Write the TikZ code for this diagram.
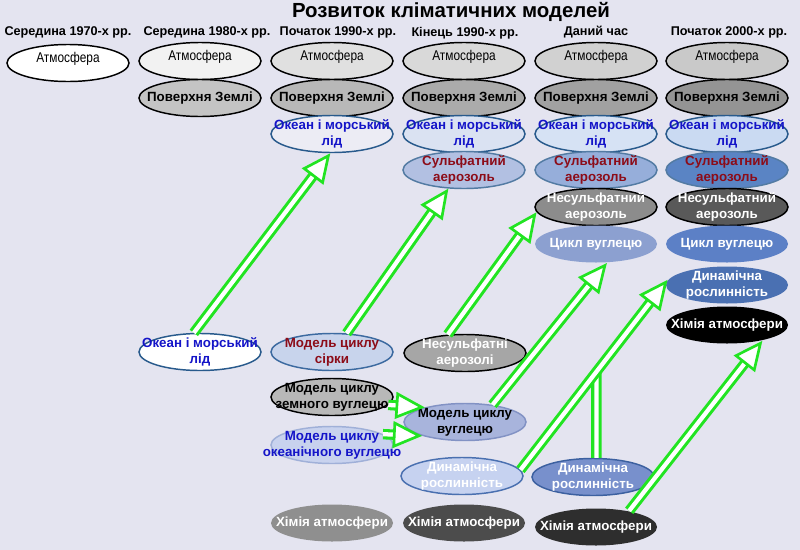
\documentclass[tikz,border=0pt]{standalone}
\usepackage{fontspec}
\setmainfont{Liberation Sans}
\newfontfamily\narrowfont[FakeStretch=0.84]{Liberation Sans}
\usetikzlibrary{shapes.geometric,arrows.meta,calc}
\definecolor{bgc}{RGB}{228,228,240}
\definecolor{agreen}{RGB}{34,228,34}
\definecolor{oblue}{RGB}{20,20,200}
\definecolor{oborder}{RGB}{40,90,140}
\definecolor{sred}{RGB}{140,12,24}
\tikzset{
  el/.style={ellipse, minimum width=91.5pt, minimum height=27.75pt,
    inner xsep=-40pt, inner ysep=-14pt, line width=1.1pt, align=center,
    font=\fontsize{10}{12}\bfseries\selectfont},
  atm/.style={el, draw=black, text=black, text height=6pt, text depth=7pt,
    font=\fontsize{10.6}{12}\narrowfont\selectfont},
  surf/.style={el, draw=black, text=black},
  ocean/.style={el, draw=oborder, text=oblue},
  sulf/.style={el, draw=oborder!80!white, text=sred},
  whitetxt/.style={el, text=white},
  hdr/.style={font=\fontsize{9.5}{11}\bfseries\selectfont},
  harrow/.style={draw=white, line width=3.2pt, line join=miter,
    preaction={draw=agreen, line width=7.8pt, arrows=-, shorten >=14pt},
    -{Triangle[length=22pt,width=20pt,color=agreen,fill=white,line width=2pt]}},
  hline/.style={draw=white, line width=3.2pt,
    preaction={draw=agreen, line width=7.8pt}}
}
\begin{document}
\begin{tikzpicture}[x=0.75pt,y=-0.75pt]
\useasboundingbox (0,0) rectangle (800,550);
\fill[bgc] (0,0) rectangle (800,550);

% title and headers
\node[font=\fontsize{15.3}{18}\bfseries\selectfont] (title) at (451,12) {Розвиток кліматичних моделей};
\node[hdr] (h1) at (68,32) {Середина 1970-х рр.};
\node[hdr] (h2) at (207,32) {Середина 1980-х рр.};
\node[hdr] (h3) at (338,32) {Початок 1990-х рр.};
\node[hdr] (h4) at (465,33) {Кінець 1990-х рр.};
\node[hdr] (h5) at (596,32) {Даний час};
\node[hdr] (h6) at (729,32) {Початок 2000-х рр.};

% column 1
\node[atm, fill=white] (atm1) at (68,63) {Атмосфера};
% column 2
\node[atm, fill=black!5] (atm2) at (200,61) {Атмосфера};
\node[surf, fill=black!23] (surf2) at (200,98) {Поверхня Землі};
% column 3
\node[atm, fill=black!12] (atm3) at (332,61) {Атмосфера};
\node[surf, fill=black!28] (surf3) at (332,98) {Поверхня Землі};
\node[ocean, fill=bgc!70!white] (ocean3) at (332,134) {Океан і морський\\лід};
% column 4
\node[atm, fill=black!15] (atm4) at (464,61) {Атмосфера};
\node[surf, fill=black!33] (surf4) at (464,98) {Поверхня Землі};
\node[ocean, fill={rgb,255:red,218;green,226;blue,242}] (ocean4) at (464,134) {Океан і морський\\лід};
\node[sulf, fill={rgb,255:red,178;green,192;blue,226}] (sulf4) at (464,170) {Сульфатний\\аерозоль};
% column 5
\node[atm, fill=black!18] (atm5) at (596,61) {Атмосфера};
\node[surf, fill=black!37] (surf5) at (596,98) {Поверхня Землі};
\node[ocean, fill={rgb,255:red,214;green,226;blue,244}] (ocean5) at (596,134) {Океан і морський\\лід};
\node[sulf, fill={rgb,255:red,150;green,174;blue,218}] (sulf5) at (596,170) {Сульфатний\\аерозоль};
\node[whitetxt, draw=black, fill=black!45] (nsulf5) at (596,207) {Несульфатний\\аерозоль};
\node[whitetxt, fill={rgb,255:red,140;green,160;blue,208}] (cyc5) at (596,244) {Цикл вуглецю};
% column 6
\node[atm, fill=black!21] (atm6) at (727,61) {Атмосфера};
\node[surf, fill=black!42] (surf6) at (727,98) {Поверхня Землі};
\node[ocean, fill={rgb,255:red,202;green,218;blue,242}] (ocean6) at (727,134) {Океан і морський\\лід};
\node[sulf, fill={rgb,255:red,90;green,132;blue,196}] (sulf6) at (727,170) {Сульфатний\\аерозоль};
\node[whitetxt, draw=black, fill=black!65] (nsulf6) at (727,207) {Несульфатний\\аерозоль};
\node[whitetxt, fill={rgb,255:red,92;green,128;blue,198}] (cyc6) at (727,244) {Цикл вуглецю};
\node[whitetxt, fill={rgb,255:red,74;green,112;blue,178}] (dyn6) at (727,285) {Динамічна\\рослинність};
\node[whitetxt, fill=black] (chem6) at (727,325) {Хімія атмосфери};

% lower part
\node[ocean, fill=white] (ocean2) at (200,352) {Океан і морський\\лід};
\node[el, draw={rgb,255:red,60;green,106;blue,160}, text=sred, fill={rgb,255:red,200;green,212;blue,236}] (sulmod) at (332,352) {Модель циклу\\сірки};
\node[el, draw=black, text=black, fill=black!28] (earthmod) at (332,397) {Модель циклу\\земного вуглецю};
\node[el, draw={rgb,255:red,160;green,176;blue,216}, text=oblue, fill={rgb,255:red,200;green,210;blue,238}] (oceanmod) at (332,445) {Модель циклу\\океанічного вуглецю};
\node[whitetxt, fill=black!44] (chem3) at (332,523) {Хімія атмосфери};
\node[whitetxt, draw=black, fill=black!35] (nsulf4) at (465,353) {Несульфатні\\аерозолі};
\node[el, draw={rgb,255:red,130;green,146;blue,196}, text=black, fill={rgb,255:red,168;green,180;blue,220}] (carb4) at (465,422) {Модель циклу\\вуглецю};
\node[whitetxt, draw={rgb,255:red,74;green,112;blue,176}, fill={rgb,255:red,198;green,210;blue,240}] (dyn4) at (462,476) {Динамічна\\рослинність};
\node[whitetxt, fill=black!70] (chem4) at (464,523) {Хімія атмосфери};
\node[whitetxt, draw={rgb,255:red,60;green,96;blue,160}, fill={rgb,255:red,120;green,144;blue,204}] (dyn5) at (593,477) {Динамічна\\рослинність};
\node[whitetxt, fill=black!82] (chem5) at (596,527) {Хімія атмосфери};

% connectors
\draw[harrow] (ocean2.108) -- (ocean3.-95);
\draw[harrow] (sulmod.52) -- (sulf4.-130);
\draw[harrow] (nsulf4.133) -- (nsulf5.-175);
\draw[harrow] (carb4.32) -- (cyc5.-60);
\coordinate (vtop) at ($(dyn5.80)+(0,-200)$);
\coordinate (junc) at (intersection of dyn5.80--vtop and dyn4.6--dyn6.175);
\draw[hline] (dyn5.80) -- (junc);
\draw[harrow] (dyn4.6) -- (dyn6.175);
\draw[harrow] (chem5.26) -- (chem6.-24);
\draw[harrow] (earthmod.-8) -- (carb4.160);
\draw[harrow] (oceanmod.12) -- (carb4.-162);
\end{tikzpicture}
\end{document}
